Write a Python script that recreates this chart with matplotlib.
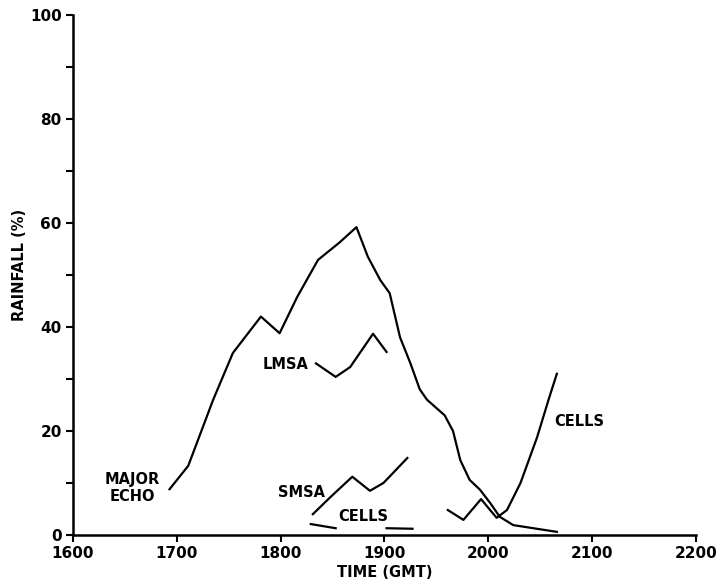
import numpy as np
import matplotlib
matplotlib.use("Agg")
import matplotlib.pyplot as plt

# Data (time in GMT, rainfall in %)
echo_t = [1693, 1711, 1735, 1754, 1781, 1799, 1816, 1836, 1857, 1873, 1884, 1896,
          1905, 1915, 1925, 1934, 1941, 1958, 1966, 1973, 1982, 1992, 2002, 2011,
          2024, 2066]
echo_r = [8.8, 13.3, 26, 35, 42, 38.8, 45.8, 52.9, 56.3, 59.2, 53.5, 49,
          46.5, 38, 33, 28, 26, 23, 20, 14.4, 10.6, 8.7, 6.1, 3.5, 1.9, 0.6]

lmsa_t = [1834, 1853, 1867, 1889, 1902]
lmsa_r = [33, 30.4, 32.3, 38.7, 35.2]

smsa_t = [1831, 1848, 1869, 1886, 1899, 1922]
smsa_r = [4, 7.3, 11.2, 8.5, 10, 14.8]

cells_a_t = [1829, 1853]
cells_a_r = [2.1, 1.3]
cells_b_t = [1902, 1927]
cells_b_r = [1.3, 1.2]

cells_c_t = [1961, 1976, 1993, 2008, 2018, 2031, 2047, 2058, 2066]
cells_c_r = [4.8, 2.9, 6.9, 3.3, 4.8, 10, 18.8, 26, 31]

xticks = [1600, 1700, 1800, 1900, 2000, 2100, 2200]
yticks = [0, 20, 40, 60, 80, 100]

plt.rcParams['font.family'] = 'DejaVu Sans'
plt.rcParams['font.weight'] = 'bold'

fig = plt.figure(figsize=(7.24, 5.85), dpi=100)
ax = fig.add_axes([0.1008, 0.0855, 0.8605, 0.8889])

lw = 1.6
ax.plot(echo_t, echo_r, color='black', lw=lw)
ax.plot(lmsa_t, lmsa_r, color='black', lw=lw)
ax.plot(smsa_t, smsa_r, color='black', lw=lw)
ax.plot(cells_a_t, cells_a_r, color='black', lw=lw)
ax.plot(cells_b_t, cells_b_r, color='black', lw=lw)
ax.plot(cells_c_t, cells_c_r, color='black', lw=lw)

fs = 10.5
ax.text(1657, 9.0, "MAJOR\nECHO", ha='center', va='center', fontsize=fs,
        fontweight='bold', linespacing=1.2)
ax.text(1805, 32.7, "LMSA", ha='center', va='center', fontsize=fs, fontweight='bold')
ax.text(1820, 8.1, "SMSA", ha='center', va='center', fontsize=fs, fontweight='bold')
ax.text(1880, 3.5, "CELLS", ha='center', va='center', fontsize=fs, fontweight='bold')
ax.text(2088, 21.9, "CELLS", ha='center', va='center', fontsize=fs, fontweight='bold')

ax.set_xlim(1600, 2200)
ax.set_ylim(0, 100)
ax.set_xticks(xticks)
ax.set_yticks(yticks)
ax.set_yticks(np.arange(10, 100, 20), minor=True)
ax.tick_params(axis='both', which='major', direction='out', length=5, width=1.5,
               labelsize=11, pad=3)
ax.tick_params(axis='y', which='minor', direction='out', length=5, width=1.5)
for lab in ax.get_xticklabels() + ax.get_yticklabels():
    lab.set_fontweight('bold')

for s in ['top', 'right']:
    ax.spines[s].set_visible(False)
for s in ['left', 'bottom']:
    ax.spines[s].set_linewidth(1.8)

ax.set_xlabel("TIME (GMT)", fontsize=10.5, fontweight='bold', labelpad=3)
ax.set_ylabel("RAINFALL (%)", fontsize=10.5, fontweight='bold')
ax.yaxis.set_label_coords(-0.074, 0.52)

fig.savefig("out.png", dpi=100)
